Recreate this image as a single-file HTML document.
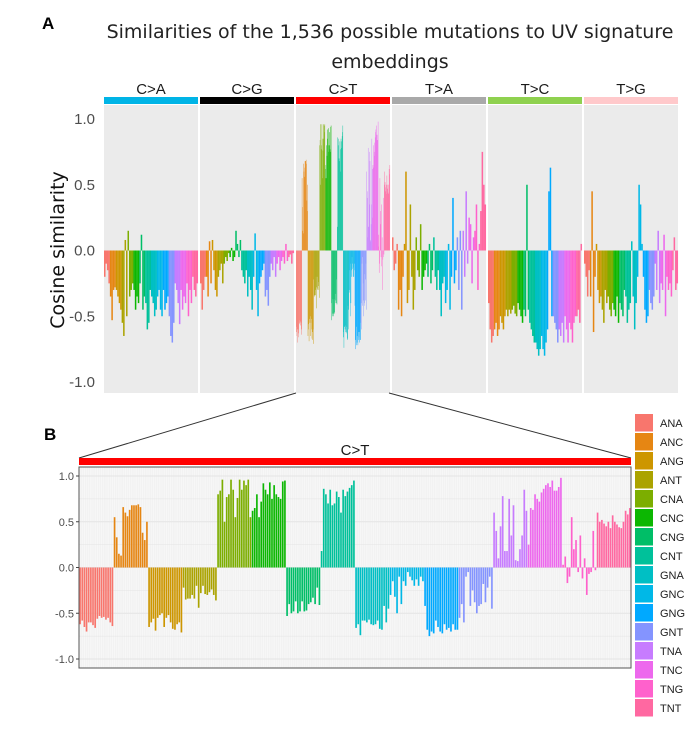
<!DOCTYPE html>
<html><head><meta charset="utf-8">
<style>
html,body{margin:0;padding:0;background:#fff;}
svg{display:block;font-family:"Liberation Sans",sans-serif;}
</style></head>
<body>
<svg id="fig" width="696" height="733" viewBox="0 0 696 733" xmlns="http://www.w3.org/2000/svg">
<text x="42" y="29" font-size="17" font-weight="bold">A</text>
<text x="390" y="38" font-size="19" text-anchor="middle" font-family="'DejaVu Sans',sans-serif" fill="#222">Similarities of the 1,536 possible mutations to UV signature</text>
<text x="390" y="68" font-size="19" text-anchor="middle" font-family="'DejaVu Sans',sans-serif" fill="#222">embeddings</text>
<text transform="translate(64,250) rotate(-90)" font-size="19" text-anchor="middle" font-family="'DejaVu Sans',sans-serif" fill="#111">Cosine similarity</text>
<g id="pa"></g>
<text x="44" y="440" font-size="17" font-weight="bold">B</text>
<g id="pb"></g>
<g id="legend"></g>
</svg>
<script>
const contexts=["ANA","ANC","ANG","ANT","CNA","CNC","CNG","CNT","GNA","GNC","GNG","GNT","TNA","TNC","TNG","TNT"];
const colors=["#F8766D","#E68613","#CD9600","#ABA300","#7CAE00","#0CB702","#00BE67","#00C19A","#00BFC4","#00B8E7","#00A9FF","#8494FF","#C77CFF","#ED68ED","#FF61CC","#FF68A1"];
const facets=["C>A","C>G","C>T","T>A","T>C","T>G"];
const stripColors=["#00B4E6","#000000","#FF0000","#A9A9A9","#8FD14F","#FFC9CB"];
const yTicks=[1.0,0.5,0.0,-0.5,-1.0];
const yTickLabels=["1.0","0.5","0.0","-0.5","-1.0"];
// C>T: 256 values (16 per context)
const ctValues=[
-0.62,-0.58,-0.65,-0.7,-0.6,-0.6,-0.63,-0.66,-0.56,-0.53,-0.55,-0.54,-0.57,-0.55,-0.6,-0.64,
0.55,0.33,0.15,0.13,0.66,0.6,0.56,0.63,0.68,0.68,0.68,0.69,0.66,0.38,0.3,0.5,
-0.65,-0.6,-0.56,-0.69,-0.55,-0.52,-0.5,-0.65,-0.55,-0.52,-0.6,-0.67,-0.68,-0.62,-0.6,-0.71,
-0.22,-0.35,-0.34,-0.34,-0.3,-0.34,-0.2,-0.44,-0.28,-0.2,-0.29,-0.3,-0.27,-0.24,-0.3,-0.36,
0.8,0.84,0.96,0.5,0.77,0.8,0.96,0.85,0.55,0.76,0.96,0.85,0.95,0.9,0.96,0.55,
0.62,0.65,0.8,0.55,0.72,0.92,0.85,0.8,0.93,0.75,0.9,0.8,0.77,0.75,0.94,0.95,
-0.53,-0.4,-0.5,-0.48,-0.37,-0.5,-0.48,-0.37,-0.48,-0.47,-0.4,-0.38,-0.33,-0.4,-0.22,-0.41,
0.18,0.86,0.8,0.7,0.85,0.68,0.7,0.83,0.77,0.6,0.85,0.78,0.83,0.87,0.9,0.95,
-0.66,-0.62,-0.74,-0.58,-0.58,-0.6,-0.57,-0.62,-0.63,-0.62,-0.58,-0.67,-0.68,-0.42,-0.6,-0.45,
-0.3,-0.15,-0.32,-0.5,-0.1,-0.4,-0.15,-0.2,-0.05,-0.1,-0.14,-0.2,-0.13,-0.2,-0.1,-0.15,
-0.42,-0.68,-0.75,-0.7,-0.72,-0.58,-0.65,-0.7,-0.72,-0.62,-0.68,-0.66,-0.7,-0.62,-0.68,-0.68,
-0.55,-0.4,-0.6,-0.1,-0.05,-0.42,-0.25,-0.38,-0.5,-0.42,-0.4,-0.18,-0.38,-0.22,-0.1,-0.45,
0.6,0.4,0.1,0.45,0.78,0.18,0.18,0.75,0.35,0.68,0.08,0.07,0.2,0.35,0.85,0.62,
0.25,0.65,0.63,0.8,0.75,0.72,0.82,0.86,0.9,0.92,0.88,0.95,0.84,0.84,0.88,0.98,
0.03,0.12,-0.17,-0.1,0.55,0.2,0.3,-0.05,0.35,-0.12,0.1,-0.3,-0.07,-0.05,0.4,-0.03,
0.6,0.5,0.52,0.48,0.45,0.5,0.43,0.57,0.5,0.47,0.44,0.43,0.5,0.62,0.58,0.65];
// other facets: 64 summarized values (4 per context)
const caValues=[-0.2,-0.1,-0.15,-0.25,-0.35,-0.53,-0.3,-0.28,-0.3,-0.35,-0.4,-0.45,-0.55,-0.65,0.08,-0.5,0.15,-0.35,-0.3,-0.25,-0.3,-0.45,-0.35,-0.4,-0.25,0.12,-0.45,-0.35,-0.4,-0.6,-0.55,-0.3,-0.35,-0.4,-0.5,-0.45,-0.35,-0.3,-0.45,-0.5,-0.3,-0.45,-0.4,-0.35,-0.5,-0.65,-0.7,-0.55,-0.25,-0.3,-0.4,-0.56,-0.3,-0.45,-0.35,-0.4,-0.25,-0.5,-0.3,-0.4,-0.2,-0.3,-0.35,-0.25];
const cgValues=[-0.25,-0.45,-0.3,-0.2,-0.2,-0.35,0.07,-0.25,0.08,-0.15,-0.3,-0.35,-0.2,-0.15,-0.1,-0.25,-0.1,-0.05,-0.08,-0.02,-0.05,0.02,-0.08,-0.05,0.15,0.05,-0.05,0.08,-0.15,-0.2,-0.25,-0.15,-0.35,-0.2,-0.3,-0.45,-0.2,0.13,-0.3,-0.5,-0.25,-0.2,-0.15,-0.1,-0.35,-0.3,-0.42,-0.2,-0.1,-0.15,-0.05,-0.2,-0.1,-0.05,-0.15,-0.08,-0.05,-0.1,0.05,-0.08,-0.05,-0.03,-0.1,-0.02];
const taValues=[0.1,-0.15,-0.1,0.05,-0.45,-0.3,-0.5,-0.2,0.05,0.6,-0.4,-0.3,0.35,-0.2,-0.45,-0.3,0.1,-0.15,-0.2,0.2,-0.3,-0.2,-0.15,-0.1,-0.2,0.05,-0.25,-0.15,0.1,-0.2,-0.3,-0.15,-0.3,-0.5,-0.25,-0.2,-0.4,-0.3,0.05,-0.45,-0.2,0.4,-0.25,-0.15,0.1,-0.3,0.15,-0.45,0.15,-0.2,0.45,-0.1,0.25,0.2,-0.25,0.1,0.15,0.35,-0.3,0.05,0.3,0.75,0.5,0.35];
const tcValues=[-0.4,-0.6,-0.7,-0.65,-0.6,-0.55,-0.65,-0.6,-0.5,-0.55,-0.6,-0.5,-0.45,-0.5,-0.45,-0.48,-0.45,-0.42,-0.48,-0.5,-0.4,-0.45,-0.5,-0.55,-0.45,-0.5,0.5,-0.45,-0.55,-0.6,-0.65,-0.7,-0.7,-0.75,-0.8,-0.75,-0.65,-0.75,-0.8,-0.7,-0.6,0.45,0.63,-0.5,-0.5,-0.55,-0.6,-0.7,-0.6,-0.65,-0.55,-0.7,-0.5,-0.6,-0.7,-0.55,-0.6,-0.7,-0.55,-0.5,-0.5,-0.45,-0.55,0.05];
const tgValues=[-0.1,-0.2,-0.35,-0.15,-0.35,0.45,-0.62,-0.2,0.05,-0.3,-0.4,-0.35,-0.45,-0.55,-0.3,-0.4,-0.35,-0.45,-0.5,-0.4,-0.45,-0.5,-0.35,-0.55,-0.4,-0.45,-0.5,-0.3,-0.35,-0.55,-0.45,-0.4,0.07,-0.35,-0.6,-0.4,-0.2,0.5,0.35,0.05,-0.2,-0.45,-0.55,-0.5,-0.3,-0.4,-0.45,-0.35,-0.1,-0.3,0.15,-0.4,-0.25,-0.3,0.12,-0.5,-0.2,-0.3,-0.25,-0.35,-0.15,0.1,-0.3,-0.25];
const facetValues=[caValues,cgValues,ctValues,taValues,tcValues,tgValues];

const NS="http://www.w3.org/2000/svg";
function mk(tag,attrs,parent){const e=document.createElementNS(NS,tag);for(const k in attrs)e.setAttribute(k,attrs[k]);parent.appendChild(e);return e;}

// Panel A
const pa=document.getElementById('pa');
const A={left:104,fw:94,gap:2,top:105,bottom:393};
const yA=v=>250.5-v*131.5;
yTicks.forEach((t,i)=>{
  const tx=mk('text',{x:95,y:yA(t)+5,'font-size':15,'text-anchor':'end',fill:'#4d4d4d'},pa);
  tx.textContent=yTickLabels[i];
  
  
});
facets.forEach((f,fi)=>{
  const x0=A.left+fi*(A.fw+A.gap);
  const g=mk('g',{},pa);
  
  
  const bg=mk('rect',{x:x0,y:A.top,width:A.fw,height:A.bottom-A.top,fill:'#ebebeb'},g);
  
  
  const st=mk('rect',{x:x0,y:97,width:A.fw,height:7,fill:stripColors[fi]},g);
  
  
  const lb=mk('text',{x:x0+A.fw/2,y:94,'font-size':15,'text-anchor':'middle',fill:'#1a1a1a'},g);
  lb.textContent=f;
  
  
  const vals=facetValues[fi];
  const n=vals.length, per=n/16, bw=A.fw/n;
  vals.forEach((v,i)=>{
    const y1=yA(Math.max(v,0)), y2=yA(Math.min(v,0));
    const r=mk('rect',{x:x0+i*bw,y:y1,width:bw+0.05,height:Math.max(y2-y1,0.1),fill:colors[Math.floor(i/per)]},g);
    
    
  });
});

// zoom lines
const zl1=mk('line',{x1:296,y1:393,x2:79,y2:458,stroke:'#333','stroke-width':1},pa);


const zl2=mk('line',{x1:389,y1:393,x2:631,y2:458,stroke:'#333','stroke-width':1},pa);



// Panel B
const pb=document.getElementById('pb');
const B={left:79,right:631,top:467,bottom:668};
const yB=v=>567.5-v*91.5;
const bbg=mk('rect',{x:B.left,y:B.top,width:B.right-B.left,height:B.bottom-B.top,fill:'#f2f2f2'},pb);


const slot=(B.right-B.left)/ctValues.length;
for(let i=0;i<ctValues.length;i++){
  const gl=mk('line',{x1:B.left+(i+0.5)*slot,x2:B.left+(i+0.5)*slot,y1:B.top,y2:B.bottom,stroke:'#fafafa','stroke-width':0.6},pb);
  
  
}
[1,0.75,0.5,0.25,0,-0.25,-0.5,-0.75,-1].forEach(t=>{
  const gl=mk('line',{x1:B.left,x2:B.right,y1:yB(t),y2:yB(t),stroke:'#e4e4e4','stroke-width':t*4%2===0?1:0.5},pb);
  
  
});
ctValues.forEach((v,i)=>{
  const y1=yB(Math.max(v,0)), y2=yB(Math.min(v,0));
  const r=mk('rect',{x:B.left+i*slot+0.25,y:y1,width:slot-0.5,height:Math.max(y2-y1,0.1),fill:colors[Math.floor(i/16)]},pb);
  
  
});
const frame=mk('rect',{x:B.left,y:B.top,width:B.right-B.left,height:B.bottom-B.top,fill:'none',stroke:'#555','stroke-width':1},pb);


const bst=mk('rect',{x:B.left,y:458,width:B.right-B.left,height:7,fill:'#FF0000'},pb);


const bl=mk('text',{x:355,y:455,'font-size':15,'text-anchor':'middle',fill:'#1a1a1a'},pb);
bl.textContent='C>T';


yTicks.forEach((t,i)=>{
  const tk=mk('line',{x1:B.left-3,x2:B.left,y1:yB(t),y2:yB(t),stroke:'#444'},pb);
  
  
  const tx=mk('text',{x:B.left-5,y:yB(t)+4,'font-size':11,'text-anchor':'end',fill:'#4d4d4d'},pb);
  tx.textContent=yTickLabels[i];
  
  
});

// Legend
const lg=document.getElementById('legend');
contexts.forEach((c,i)=>{
  const g=mk('g',{},lg);
  
  
  mk('rect',{x:635,y:414+i*19,width:18,height:17.5,fill:colors[i]},g);
  const t=mk('text',{x:660,y:414+i*19+13,'font-size':11,fill:'#222'},g);
  t.textContent=c;
});
</script>
</body></html>
